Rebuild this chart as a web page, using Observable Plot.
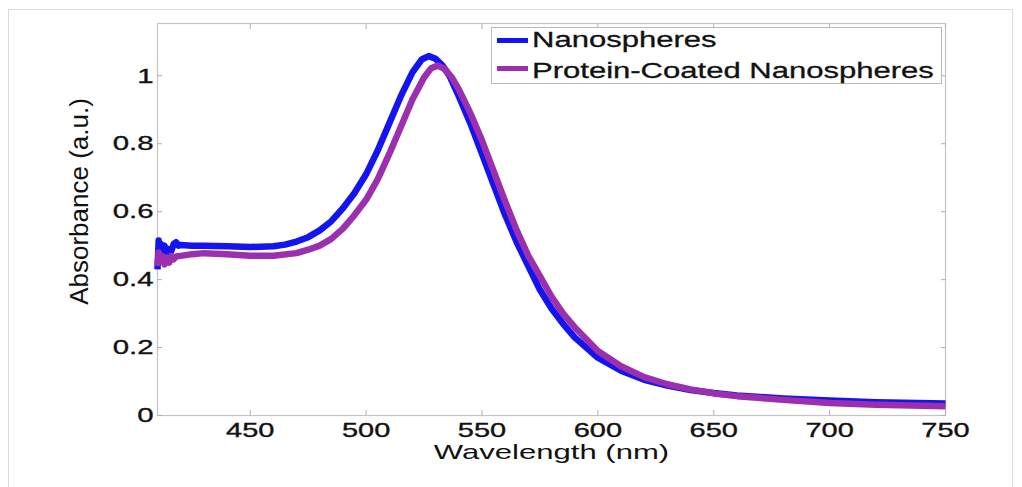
<!DOCTYPE html>
<html>
<head>
<meta charset="utf-8">
<script src="https://cdn.jsdelivr.net/npm/d3@7"></script>
<script src="https://cdn.jsdelivr.net/npm/@observablehq/plot@0.6"></script>
<style>
html,body{margin:0;padding:0;background:#fff;overflow:hidden;width:1022px;height:487px}
#wrap{position:relative;width:1022px;height:487px}
#border{position:absolute;left:8px;top:9px;width:1005px;height:520px;border:1px solid #dcdcdc;box-sizing:border-box}
#chart{position:absolute;left:0;top:0}
#legend{position:absolute;left:491px;top:27px;width:451px;height:57px;border:1px solid #b8b8b8;background:#fff;box-sizing:border-box;font-family:"Liberation Sans",Arial,sans-serif;font-size:22px;color:#111}
.sw{position:absolute;left:5px;width:31px;height:5px}
.lab{position:absolute;left:40px;transform-origin:0 50%;transform:scaleX(1.41);white-space:nowrap;line-height:1;-webkit-text-stroke:0.3px #111}
</style>
</head>
<body>
<div id="wrap">
  <div id="border"></div>
  <div id="chart"></div>
  <div id="legend"></div>
</div>
<script>
// ---- data ----
const seriesNames = ["Nanospheres", "Protein-Coated Nanospheres"];
const seriesColors = ["#1414f0", "#9b2fae"];
const xTicks = [450, 500, 550, 600, 650, 700, 750];
const yTicks = [0, 0.2, 0.4, 0.6, 0.8, 1];

const nanoWl = [410,410.5,411,411.5,412,413,414,415,416,417,418,419,420,425,430,440,450,460,465,470,475,480,485,490,495,500,505,510,515,520,524,527,530,533,536,540,545,550,555,560,565,570,575,580,585,590,600,610,620,630,640,650,660,680,700,720,750];
const nanoAbs = [0.43,0.515,0.47,0.505,0.485,0.50,0.48,0.49,0.485,0.505,0.51,0.50,0.502,0.50,0.50,0.498,0.496,0.498,0.503,0.512,0.525,0.545,0.572,0.61,0.655,0.71,0.78,0.86,0.94,1.01,1.048,1.058,1.05,1.03,1.0,0.94,0.86,0.77,0.68,0.59,0.51,0.44,0.37,0.315,0.27,0.23,0.17,0.132,0.105,0.088,0.075,0.066,0.059,0.050,0.044,0.039,0.035];

const coatWl = [410,410.5,411,412,413,414,415,416,417,418,420,425,430,440,450,460,470,475,480,485,490,495,500,505,510,515,520,525,528,531,534,537,540,545,550,555,560,565,570,575,580,585,590,600,610,620,630,640,650,660,680,700,720,750];
const coatAbs = [0.44,0.48,0.455,0.47,0.445,0.465,0.45,0.47,0.46,0.468,0.47,0.475,0.478,0.475,0.47,0.47,0.478,0.488,0.50,0.52,0.55,0.59,0.635,0.695,0.77,0.85,0.93,0.995,1.022,1.03,1.02,0.995,0.96,0.89,0.81,0.72,0.63,0.545,0.47,0.41,0.35,0.30,0.26,0.19,0.145,0.113,0.092,0.077,0.065,0.057,0.046,0.037,0.032,0.027];

const xLabel = "Wavelength (nm)";
const yLabel = "Absorbance (a.u.)";

// ---- table ----
const rows = [
  ...nanoWl.map((w, i) => ({series: seriesNames[0], wl: w, abs: nanoAbs[i]})),
  ...coatWl.map((w, i) => ({series: seriesNames[1], wl: w, abs: coatAbs[i]}))
];

const font = '"Liberation Sans", Arial, Helvetica, sans-serif';
const tickGray = "#b0b0b0";

const chart = Plot.plot({
  width: 1022,
  height: 487,
  marginTop: 23,
  marginBottom: 72,
  marginLeft: 157,
  marginRight: 77,
  style: {fontFamily: font, fontSize: "20px", color: "#111", background: "transparent"},
  x: {domain: [410, 750]},
  y: {domain: [0, 1.154]},
  color: {domain: seriesNames, range: seriesColors},
  marks: [
    Plot.frame({stroke: "#c4c4c4", strokeWidth: 1.2}),
    Plot.axisX(xTicks, {anchor: "bottom", tickSize: -5, tickPadding: 12, stroke: tickGray, fill: "#111", label: xLabel, labelArrow: "none", labelAnchor: "center", labelOffset: 43}),
    Plot.axisX(xTicks, {anchor: "top", tickSize: -5, tickFormat: () => "", stroke: tickGray, label: null}),
    Plot.axisY(yTicks, {anchor: "left", tickSize: -5, tickPadding: 9, tickFormat: d => String(d), stroke: tickGray, fill: "#111", label: yLabel, labelArrow: "none", labelAnchor: "center", labelOffset: 88}),
    Plot.axisY(yTicks, {anchor: "right", tickSize: -5, tickFormat: () => "", stroke: tickGray, label: null}),
    Plot.line(rows, {x: "wl", y: "abs", z: "series", stroke: "series", strokeWidth: 6.5, strokeLinejoin: "round", strokeLinecap: "butt"})
  ]
});

// horizontal stretch of text, to match the reference's wide lettering
function stretch(sel, sx, fs, sw) {
  chart.querySelectorAll(sel).forEach(t => {
    if (fs) t.setAttribute("font-size", fs);
    if (sw) { t.setAttribute("stroke", "#111"); t.setAttribute("stroke-width", sw); }
    else t.setAttribute("stroke", "none");
    const x = parseFloat(t.getAttribute("x")) || 0;
    const tr = t.getAttribute("transform") || "";
    t.setAttribute("transform", `${tr} translate(${x},0) scale(${sx},1) translate(${-x},0)`);
  });
}
chart.querySelectorAll('g[aria-label="x-axis label"] text').forEach(t => { t.textContent = xLabel; });
chart.querySelectorAll('g[aria-label="y-axis label"] text').forEach(t => {
  t.textContent = yLabel;
  t.setAttribute("font-size", 26);
  t.setAttribute("stroke", "none");
  const tr = t.getAttribute("transform") || "";
  t.setAttribute("transform", `${tr} translate(18,0)`);
});
stretch('g[aria-label="x-axis tick label"] text', 1.45, 20, 0.35);
stretch('g[aria-label="y-axis tick label"] text', 1.4, 21, 0.35);
stretch('g[aria-label="x-axis label"] text', 1.48, 21, 0);

document.getElementById("chart").appendChild(chart);

// ---- legend ----
const legend = document.getElementById("legend");
const rowTops = [1.1, 31.7];
const swTops = [10.2, 37.8];
seriesNames.forEach((name, i) => {
  const sw = document.createElement("div");
  sw.className = "sw";
  sw.style.top = swTops[i] + "px";
  sw.style.background = seriesColors[i];
  legend.appendChild(sw);
  const lab = document.createElement("div");
  lab.className = "lab";
  lab.style.top = rowTops[i] + "px";
  lab.textContent = name;
  legend.appendChild(lab);
});
</script>
</body>
</html>
